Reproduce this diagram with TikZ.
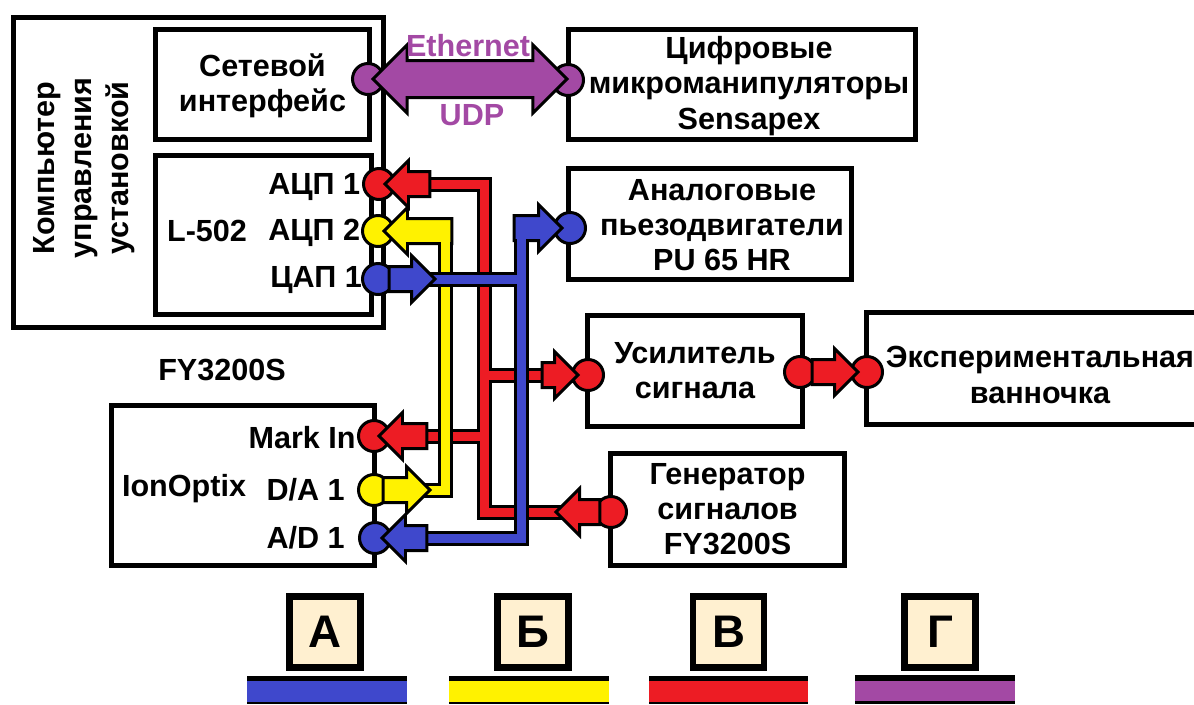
\documentclass[tikz,border=0pt]{standalone}
\usepackage{fontspec}
\setmainfont{Liberation Sans}
\usetikzlibrary{shapes.arrows, positioning}
\definecolor{wireblue}{HTML}{3F48CC}
\definecolor{wireyellow}{HTML}{FFF200}
\definecolor{wirered}{HTML}{ED1C24}
\definecolor{wirepurple}{HTML}{A349A4}
\definecolor{legendfill}{HTML}{FFF0D0}

\begin{document}
\begin{tikzpicture}[
    x=0.02cm, y=-0.02cm,
    box/.style={rectangle, draw=black, line width=0.1cm, fill=white, align=center,
                font=\fontsize{17.4}{20}\selectfont\bfseries},
    lbl/.style={align=center, inner sep=0pt, font=\fontsize{17.4}{20}\selectfont\bfseries},
    port/.style={circle, draw=black, line width=0.06cm, fill=#1, minimum size=0.62cm, inner sep=0pt},
    wire/.style={draw=black, line width=0.06cm, double=#1, double distance=0.18cm, line join=miter},
    blockarrow/.style={single arrow, draw=black, line width=0.06cm, fill=#1, inner sep=0pt, outer sep=0pt,
                       text height=0.44cm, text depth=0pt, text width=0pt,
                       single arrow head extend=0.22cm, anchor=tip},
    legendbox/.style={rectangle, draw=black, line width=0.13cm, fill=legendfill, minimum size=1.42cm,
                      inner sep=0pt, font=\fontsize{26}{30}\selectfont\bfseries},
    legendbar/.style={rectangle, draw=none, fill=#1, minimum width=3.2cm, minimum height=0.42cm, inner sep=0pt}
]
\useasboundingbox (0,0) rectangle (1194,704);

% Computer and its two blocks
\node[box, minimum width=7.42cm, minimum height=6.22cm] (comp) at (198.5,172.5) {};
\node[lbl, rotate=90] (complbl) at (84,168) {Компьютер\\[1pt]управления\\[1pt]установкой};
\node[box, minimum width=4.3cm, minimum height=2.22cm] (net) at (262.5,84.5) {};
\node[lbl] (netlbl) at (262.5,86) {Сетевой\\интерфейс};
\node[box, minimum width=4.34cm, minimum height=3.2cm] (adc) at (263.5,235) {};
\node[lbl] (adcname) at (207,231) {L-502};
\node[lbl, anchor=west] (adc1lbl) at (268,187) {АЦП 1};
\node[lbl, anchor=west] (adc2lbl) at (268,233) {АЦП 2};
\node[lbl, anchor=west] (dac1lbl) at (270,280) {ЦАП 1};

% Devices on the right
\node[box, minimum width=6.96cm, minimum height=2.22cm] (sensa) at (742,84.5) {};
\node[lbl] (sensalbl) at (749,86) {Цифровые\\микроманипуляторы\\Sensapex};
\node[box, minimum width=5.68cm, minimum height=2.24cm] (piezo) at (710,224) {};
\node[lbl] (piezolbl) at (722,225) {Аналоговые\\пьезодвигатели\\PU 65 HR};
\node[box, minimum width=4.32cm, minimum height=2.24cm] (amp) at (695,371) {Усилитель\\сигнала};
\node[box, minimum width=7cm, minimum height=2.26cm] (bath) at (1041,368.5) {};
\node[lbl] (bathlbl) at (1040,375) {Экспериментальная\\ванночка};
\node[box, minimum width=4.7cm, minimum height=2.26cm] (gen) at (727.5,509.5) {Генератор\\сигналов\\FY3200S};

% IonOptix
\node[lbl] (fylbl) at (222,370) {FY3200S};
\node[box, minimum width=5.28cm, minimum height=3.22cm] (ion) at (243,485.5) {};
\node[lbl] (ionname) at (184,489) {IonOptix};
\node[lbl, anchor=east] (marklbl) at (356,438) {Mark In};
\node[lbl, anchor=east] (dalbl) at (345,490) {D/A 1};
\node[lbl, anchor=east] (adlbl) at (345,538) {A/D 1};

% Ports
\coordinate (netp) at (368,79);
\coordinate (sensap) at (568,80);
\coordinate (adc1p) at (379,184);
\coordinate (adc2p) at (378,231);
\coordinate (dac1p) at (378,279);
\coordinate (piezop) at (570,228);
\coordinate (markp) at (374,436);
\coordinate (dap) at (374,490);
\coordinate (adp) at (375,538);
\coordinate (ampin) at (588,375);
\coordinate (ampout) at (800,372);
\coordinate (bathp) at (867,372);
\coordinate (genp) at (611,512);
\coordinate (redbot) at (484,512);
\coordinate (yelbot) at (445,490);
\coordinate (bluetop) at (521,228);

% Wires
\draw[wire=wirered] (adc1p) -| (redbot) -- (genp)
    (markp) -- (markp -| redbot)
    (ampin -| redbot) -- (ampin);
\draw[wire=wireyellow] (adc2p) -| (yelbot) -- (dap);
\draw[wire=wireblue] (adp) -| (bluetop) -- (piezop)
    (dac1p) -- (dac1p -| bluetop);
\draw[wire=wirered] (ampout) -- (bathp);
\draw[wire=wirepurple] (netp) -- (sensap);

% Port circles
\node[port=wirepurple] (netc) at (netp) {};
\node[port=wirepurple] (sensac) at (sensap) {};
\node[port=wirered] (adc1c) at (adc1p) {};
\node[port=wireyellow] (adc2c) at (adc2p) {};
\node[port=wireblue] (dac1c) at (dac1p) {};
\node[port=wireblue] (piezoc) at (piezop) {};
\node[port=wirered] (markc) at (markp) {};
\node[port=wireyellow] (dapc) at (dap) {};
\node[port=wireblue] (adpc) at (adp) {};
\node[port=wirered] (ampinc) at (ampin) {};
\node[port=wirered] (ampoutc) at (ampout) {};
\node[port=wirered] (bathc) at (bathp) {};
\node[port=wirered] (genc) at (genp) {};

% Block arrows
\node[double arrow, draw=black, line width=0.06cm, fill=wirepurple, inner sep=0pt, outer sep=0pt,
      text height=0.68cm, text depth=0pt, text width=0pt,
      minimum height=3.88cm, double arrow head extend=0.31cm] (ethernet) at (470,79) {};
\node[blockarrow=wirered, shape border rotate=180, minimum height=0.9cm] (adc1a) at (385,184) {};
\node[blockarrow=wireyellow, shape border rotate=180, minimum height=1.36cm] (adc2a) at (384,231) {};
\node[blockarrow=wireblue, minimum height=0.92cm] (dac1a) at (435,279) {};
\node[blockarrow=wireblue, minimum height=0.96cm] (piezoa) at (562,228) {};
\node[blockarrow=wirered, minimum height=0.72cm] (ampa) at (578,375) {};
\node[blockarrow=wirered, shape border rotate=180, minimum height=0.96cm] (marka) at (379,436) {};
\node[blockarrow=wireyellow, minimum height=0.94cm] (daa) at (430,490) {};
\node[blockarrow=wireblue, shape border rotate=180, minimum height=0.9cm] (ada) at (382,538) {};
\node[blockarrow=wirered, shape border rotate=180, minimum height=0.88cm] (gena) at (556,512) {};
\node[blockarrow=wirered, minimum height=0.92cm] (ampouta) at (858,372) {};

% Corners where a shaft turns into its wire
\fill[wireyellow] (440.5,225) rectangle (449.5,250);
\fill[wireblue] (516.5,225) rectangle (525.5,250);

% Protocol labels
\node[lbl, text=wirepurple] (ethlbl) at (468,46) {Ethernet};
\node[lbl, text=wirepurple] (udplbl) at (472,115) {UDP};

% Legend
\node[legendbox] (legA) at (325,632) {А};
\node[legendbox] (legB) at (533,632) {Б};
\node[legendbox] (legC) at (728.5,632) {В};
\node[legendbox] (legD) at (940,632) {Г};
\fill[black] (247,676) rectangle (407,704);
\fill[black] (449,676) rectangle (609,704);
\fill[black] (649,676) rectangle (808,704);
\fill[black] (855,675) rectangle (1015,704);
\node[legendbar=wireblue] (barA) at (327,691.5) {};
\node[legendbar=wireyellow] (barB) at (529,691.5) {};
\node[legendbar=wirered, minimum width=3.18cm] (barC) at (728.5,691.5) {};
\node[legendbar=wirepurple, minimum height=0.4cm] (barD) at (935,691) {};
\end{tikzpicture}
\end{document}
